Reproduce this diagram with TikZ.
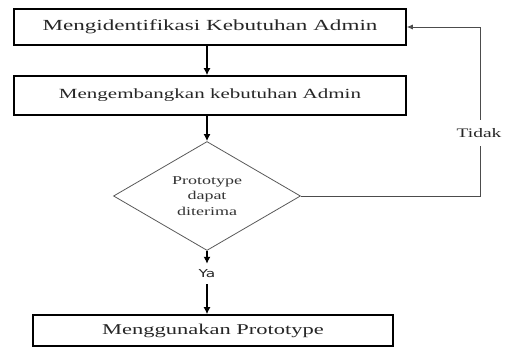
\documentclass[tikz,border=0pt]{standalone}
\usepackage{fontspec}
\setmainfont[FakeStretch=1.5]{Liberation Serif}
\newfontfamily\yafont[FakeStretch=1.4]{DejaVu Sans}
\usetikzlibrary{shapes.geometric,arrows.meta}
\begin{document}
\begin{tikzpicture}[x=1pt,y=-1pt,
  procbox/.style={draw=black,line width=1.6pt,minimum width=392pt,inner sep=0pt,font=\fontsize{15}{17}\selectfont,text=black!85},
  decis/.style={diamond,draw=black!65,line width=0.8pt,minimum width=187pt,minimum height=102pt,inner sep=0pt,align=center,font=\fontsize{12}{15.5}\selectfont,text=black!80},
  flow/.style={line width=1.3pt,-{Latex[length=7pt,width=7pt]}},
  loopline/.style={draw=black!70,line width=0.8pt},
  lbl/.style={inner sep=0pt,text=black!85}]
\useasboundingbox (0,0) rectangle (506,348);
\node[procbox,minimum height=36pt,font=\fontsize{15.4}{17}\selectfont] (b1) at (210,27) {Mengidentifikasi Kebutuhan Admin};
\node[procbox,minimum height=39pt,font=\fontsize{14}{16}\selectfont] (b2) at (210,95.5) {Mengembangkan kebutuhan Admin};
\node[decis] (d) at (207,196) {Prototype\\dapat\\diterima};
\node[procbox,minimum width=360pt,minimum height=31pt] (b3) at (213,330.5) {Menggunakan Prototype};
\node[lbl,font=\yafont\fontsize{11}{13}\selectfont,minimum height=20pt] (ya) at (207,274) {Ya};
\node[lbl,font=\fontsize{13}{14}\selectfont,minimum height=26pt] (tidak) at (479,133) {Tidak};
\coordinate (lr) at (480,196);
\draw[flow] (b1.south -| d.north) -- (b2.north -| d.north);
\draw[flow] (b2.south -| d.north) -- (d.north);
\draw[flow] (d.south) -- (ya.north);
\draw[flow] (ya.south) -- (b3.north -| ya.south);
\draw[loopline] (d.east) -- (lr) -- (tidak.south -| lr);
\draw[loopline,-{Latex[length=6pt,width=5pt]}] (tidak.north -| lr) |- (b1.east);
\end{tikzpicture}
\end{document}
